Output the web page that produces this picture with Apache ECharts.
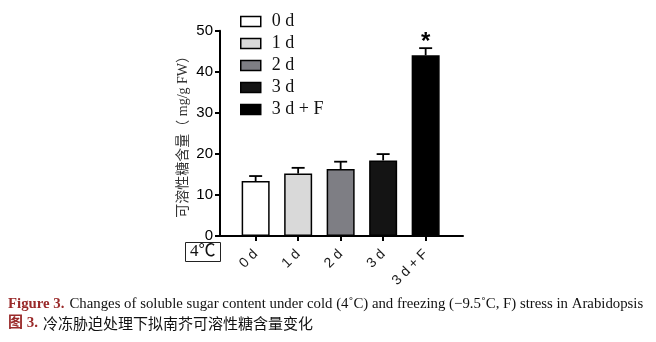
<!DOCTYPE html>
<html>
<head>
<meta charset="utf-8">
<script src="https://cdn.jsdelivr.net/npm/echarts@6/dist/echarts.min.js"></script>
<style>html,body{margin:0;padding:0;background:#fff}#c{width:656px;height:342px}</style>
</head>
<body>
<div id="c"></div>
<script>
var categories = ['0 d', '1 d', '2 d', '3 d', '3 d + F'];
var means = [13.4, 15.2, 16.3, 18.4, 44.0];
var errors = [1.2, 1.4, 1.8, 1.55, 1.75];
var significant = [false, false, false, false, true];
var barColors = ['#ffffff', '#d9d9d9', '#7e7e84', '#141414', '#000000'];
var yTicks = [0, 10, 20, 30, 40, 50];

var chart = echarts.init(document.getElementById('c'), null, {renderer: 'canvas'});

var barSeries = categories.map(function (name, i) {
  return {
    type: 'bar',
    name: name,
    stack: 'all',
    xAxisIndex: 0,
    yAxisIndex: 0,
    barWidth: 28,
    itemStyle: {color: barColors[i], borderColor: '#000', borderWidth: 1.5},
    emphasis: {disabled: true},
    data: categories.map(function (c, j) { return j === i ? means[i] : '-'; }),
    z: 2
  };
});

var errSeries = {
  type: 'custom',
  xAxisIndex: 0,
  yAxisIndex: 0,
  z: 5,
  silent: true,
  data: means.map(function (m, i) { return [i, m, errors[i], significant[i] ? 1 : 0]; }),
  renderItem: function (params, api) {
    var x = api.value(0), m = api.value(1), e = api.value(2), s = api.value(3);
    var p0 = api.coord([x, m]);
    var p1 = api.coord([x, m + e]);
    var half = 6.5;
    var children = [
      {type: 'line', shape: {x1: p0[0], y1: p0[1], x2: p1[0], y2: p1[1]}, style: {stroke: '#000', lineWidth: 1.8}},
      {type: 'line', shape: {x1: p1[0] - half, y1: p1[1], x2: p1[0] + half, y2: p1[1]}, style: {stroke: '#000', lineWidth: 1.8}}
    ];
    if (s) {
      children.push({type: 'text', style: {text: '*', x: p1[0], y: p1[1] + 6, align: 'center', verticalAlign: 'bottom', font: 'bold 24px "Liberation Sans", Arial, sans-serif', fill: '#000'}});
    }
    return {type: 'group', children: children};
  }
};

var option = {
  animation: false,
  backgroundColor: '#fff',
  title: [
    {
      text: '4℃', left: 185, top: 242,
      borderColor: '#222', borderWidth: 1, padding: [1, 5, 1, 5],
      textStyle: {fontFamily: '"Liberation Serif", "Noto Sans CJK SC", serif', fontSize: 17, fontWeight: 'normal', color: '#111', lineHeight: 18}
    },
    {
      text: '{a|Figure 3.} {b|Changes of soluble sugar content under cold (4˚C) and freezing (−9.5˚C, F) stress in Arabidopsis}',
      left: 8, top: 295, padding: 0,
      textStyle: {
        fontWeight: 'normal',
        rich: {
          a: {fontFamily: '"Liberation Serif", serif', fontSize: 14.8, fontWeight: 'bold', color: '#9a2a2a'},
          b: {fontFamily: '"Liberation Serif", serif', fontSize: 14.8, fontWeight: 'normal', color: '#111'}
        }
      }
    },
    {
      text: '{a|图 3.} {c|冷冻胁迫处理下拟南芥可溶性糖含量变化}',
      left: 8, top: 314, padding: 0,
      textStyle: {
        fontWeight: 'normal',
        rich: {
          a: {fontFamily: '"Liberation Serif", "Noto Sans CJK SC", serif', fontSize: 15, fontWeight: 'bold', color: '#9a2a2a'},
          c: {fontFamily: '"Noto Sans CJK SC", sans-serif', fontSize: 15, fontWeight: 'normal', color: '#111'}
        }
      }
    }
  ],
  legend: {
    orient: 'vertical', left: 240, top: 12.5, padding: 0,
    itemWidth: 20, itemHeight: 10, itemGap: 4,
    icon: 'rect',
    selectedMode: false,
    itemStyle: {borderColor: '#000', borderWidth: 1.5},
    textStyle: {fontFamily: '"Liberation Serif", serif', fontSize: 18, color: '#111', lineHeight: 18, padding: [0, 0, 0, 6]},
    data: categories
  },
  grid: [
    {left: 234.4, width: 212.5, top: 30.7, height: 205.3, containLabel: false},
    {left: 220, width: 243, top: 30.7, height: 205.3, containLabel: false}
  ],
  xAxis: [
    {
      type: 'category', gridIndex: 0, data: categories,
      axisLine: {show: false},
      axisTick: {show: true, alignWithLabel: true, length: 5, lineStyle: {color: '#000', width: 2}},
      axisLabel: {rotate: 45, margin: 16, fontFamily: '"Liberation Sans", Arial, sans-serif', fontSize: 14, color: '#1a1a1a'}
    },
    {
      type: 'value', gridIndex: 1, min: 0, max: 1,
      axisLine: {show: true, onZero: false, lineStyle: {color: '#000', width: 2}},
      axisTick: {show: false}, axisLabel: {show: false}, splitLine: {show: false}
    }
  ],
  yAxis: [
    {
      type: 'value', gridIndex: 0, min: yTicks[0], max: yTicks[yTicks.length - 1], interval: 10,
      offset: 14.4,
      name: '可溶性糖含量（ mg/g FW）', nameLocation: 'middle', nameGap: 30,
      nameTextStyle: {fontFamily: '"Liberation Serif", "Noto Sans CJK SC", serif', fontSize: 14, color: '#333'},
      axisLine: {show: true, lineStyle: {color: '#000', width: 2}},
      axisTick: {show: true, length: 5, lineStyle: {color: '#000', width: 2}},
      axisLabel: {margin: 7, fontFamily: '"Liberation Sans", Arial, sans-serif', fontSize: 15, color: '#000'},
      splitLine: {show: false}
    },
    {
      type: 'value', gridIndex: 1, min: 0, max: 1, show: false
    }
  ],
  series: barSeries.concat([errSeries])
};
chart.setOption(option);
</script>
</body>
</html>
